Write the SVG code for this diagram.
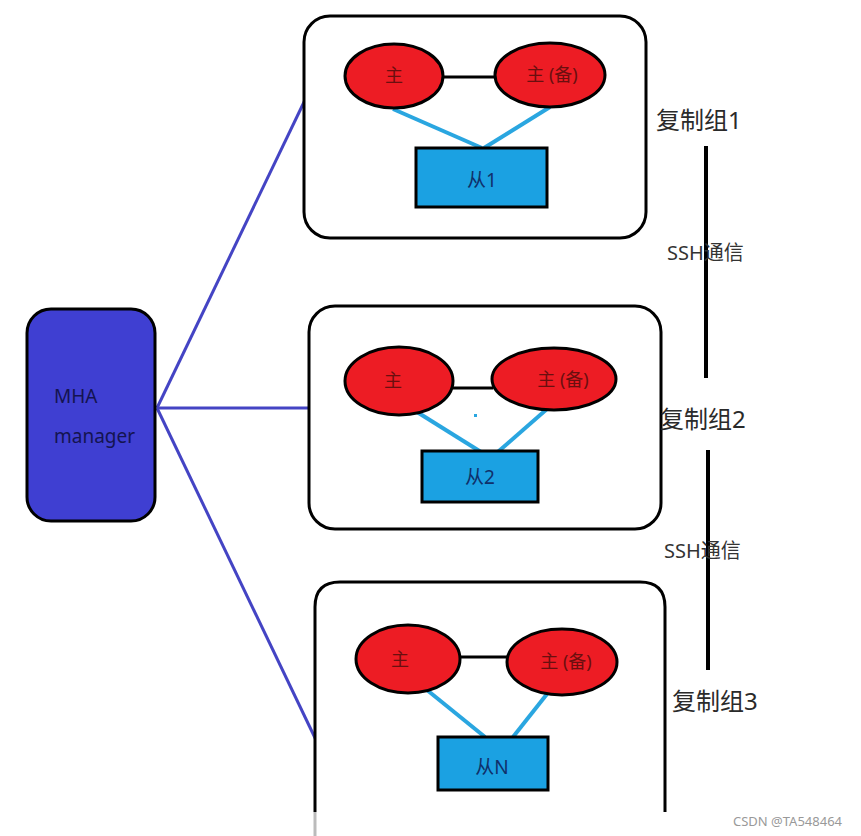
<svg xmlns="http://www.w3.org/2000/svg" width="861" height="836" viewBox="0 0 861 836">
<style>
.grp{fill:#fff;stroke:#000;stroke-width:3}
.mgr{fill:#3f3fd2;stroke:#000;stroke-width:3}
.master{fill:#ed1c24;stroke:#000;stroke-width:3}
.slave{fill:#1ba1e2;stroke:#000;stroke-width:3}
.link{stroke:#000;stroke-width:3;fill:none}
.rep{stroke:#2aa6e0;stroke-width:4;fill:none}
.mha{stroke:#4444c4;stroke-width:3;fill:none}
.ssh{stroke:#000;stroke-width:4;fill:none}
.t{font-family:"Noto Sans","Noto Sans CJK SC",sans-serif}
.mt{font-size:18px;fill:#6a0f0f;text-anchor:middle}
.st{font-size:19px;fill:#10306a;text-anchor:middle}
.lab{font-size:24px;fill:#2a2a2a}
.sshl{font-size:20px;fill:#333}
.mgrt{font-size:19px;fill:#141450}
</style>
<rect width="861" height="836" fill="#fff"/>
<g id="connectors">
<line class="mha" x1="157" y1="408" x2="305" y2="100"/>
<line class="mha" x1="157" y1="408" x2="317" y2="408"/>
<line class="mha" x1="157" y1="408" x2="316" y2="740"/>
<line class="ssh" x1="706" y1="146" x2="706" y2="378"/>
<line class="ssh" x1="708" y1="450" x2="708" y2="670"/>
</g>
<g id="mha-manager">
<rect class="mgr" x="27" y="309" width="128" height="212" rx="24"/>
<text class="t mgrt" x="54" y="403">MHA</text>
<text class="t mgrt" x="54" y="443">manager</text>
</g>
<g id="group1">
<rect class="grp" x="304" y="16" width="342" height="222" rx="26"/>
<line class="link" x1="443" y1="77" x2="497" y2="77"/>
<line class="rep" x1="393" y1="109" x2="482" y2="148"/>
<line class="rep" x1="550" y1="107" x2="484" y2="148"/>
<ellipse class="master" cx="394" cy="76" rx="49" ry="32"/>
<ellipse class="master" cx="550" cy="75" rx="55" ry="32"/>
<text class="t mt" x="394" y="82">主</text>
<text class="t mt" x="552" y="81">主 (备)</text>
<rect class="slave" x="416" y="148" width="131" height="59"/>
<text class="t st" x="482" y="187">从1</text>
</g>
<g id="group2">
<rect class="grp" x="309" y="306" width="352" height="223" rx="26"/>
<line class="link" x1="453" y1="388" x2="493" y2="388"/>
<line class="rep" x1="417" y1="412" x2="489" y2="457"/>
<line class="rep" x1="547" y1="409" x2="492" y2="457"/>
<ellipse class="master" cx="399" cy="381" rx="54" ry="34"/>
<ellipse class="master" cx="554" cy="379" rx="62" ry="31"/>
<text class="t mt" x="393" y="387">主</text>
<text class="t mt" x="563" y="386">主 (备)</text>
<rect x="474" y="414" width="3" height="3" fill="#2aa6e0"/>
<rect class="slave" x="422" y="451" width="116" height="51"/>
<text class="t st" x="480" y="484">从2</text>
</g>
<g id="group3">
<path class="grp" d="M315,812 V607 Q315,582 340,582 H640 Q665,582 665,607 V812"/>
<line stroke="#bbb" stroke-width="3" x1="315" y1="812" x2="315" y2="836"/>
<line class="link" x1="460" y1="657" x2="510" y2="657"/>
<line class="rep" x1="427" y1="690" x2="485" y2="737"/>
<line class="rep" x1="547" y1="694" x2="513" y2="737"/>
<ellipse class="master" cx="408" cy="659" rx="52" ry="34"/>
<ellipse class="master" cx="562" cy="662" rx="55" ry="33"/>
<text class="t mt" x="400" y="666">主</text>
<text class="t mt" x="566" y="668">主 (备)</text>
<rect class="slave" x="438" y="737" width="110" height="53"/>
<text class="t st" x="492" y="774">从N</text>
</g>
<g id="labels">
<text class="t lab" x="656" y="129">复制组1</text>
<text class="t lab" x="660" y="428">复制组2</text>
<text class="t lab" x="672" y="710">复制组3</text>
<text class="t sshl" x="667" y="260">SSH通信</text>
<text class="t sshl" x="664" y="558">SSH通信</text>
</g>
<text class="t" x="733" y="826" font-size="13" fill="#999">CSDN @TA548464</text>
</svg>
